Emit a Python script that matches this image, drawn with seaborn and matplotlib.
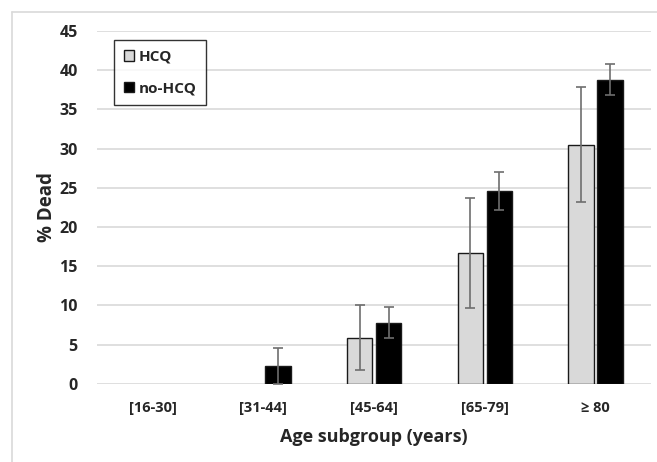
import pandas as pd
import seaborn as sns
import matplotlib.pyplot as plt
from matplotlib.lines import Line2D

# Data
age_groups = ['[16-30]', '[31-44]', '[45-64]', '[65-79]', '≥ 80']
hcq_dead = [0.0, 0.0, 5.9, 16.7, 30.5]
hcq_err = [0.0, 0.0, 4.1, 7.0, 7.3]
nohcq_dead = [0.0, 2.3, 7.8, 24.6, 38.8]
nohcq_err = [0.0, 2.3, 1.95, 2.4, 2.0]

df = pd.DataFrame({
    'age': age_groups * 2,
    'group': ['HCQ'] * 5 + ['no-HCQ'] * 5,
    'dead': hcq_dead + nohcq_dead,
    'err': hcq_err + nohcq_err,
})

sns.set_style('white')
plt.rcParams['font.family'] = ['Open Sans', 'DejaVu Sans']

fig = plt.figure(figsize=(6.57, 4.62), dpi=100)
ax = fig.add_axes([0.148, 0.169, 0.843, 0.764])

sns.barplot(data=df, x='age', y='dead', hue='group', order=age_groups,
            hue_order=['HCQ', 'no-HCQ'], palette={'HCQ': '#d9d9d9', 'no-HCQ': '#000000'},
            width=0.525, gap=0.12, errorbar=None, edgecolor='#1a1a1a', linewidth=1.0, ax=ax)

# error bars placed on the drawn bars, hide empty bars
for cont, grp in zip(ax.containers, ['HCQ', 'no-HCQ']):
    sub = df[df['group'] == grp]
    for bar, (_, row) in zip(cont, sub.iterrows()):
        if row['dead'] == 0:
            bar.set_linewidth(0)
        if row['dead'] == 0 and row['err'] == 0:
            continue
        xc = bar.get_x() + bar.get_width() / 2
        ax.errorbar(xc, row['dead'], yerr=row['err'], color='#6e6e6e', capsize=3.5,
                    elinewidth=1.2, capthick=1.2, fmt='none', clip_on=False, zorder=5)

ax.set_ylim(0, 45)
ax.set_xlim(-0.5, 4.5)
ax.set_yticks(range(0, 46, 5))
ax.yaxis.grid(True, color='#d9d9d9', linewidth=1.2)
ax.set_axisbelow(True)
sns.despine(ax=ax, left=True, bottom=True)
ax.tick_params(axis='both', length=0)
ax.tick_params(axis='x', pad=12)
ax.tick_params(axis='y', pad=14)
for lbl in ax.get_xticklabels():
    lbl.set_fontweight('bold')
    lbl.set_fontsize(10.5)
for lbl in ax.get_yticklabels():
    lbl.set_fontweight('bold')
    lbl.set_fontsize(11.5)
ax.set_xlabel('Age subgroup (years)', fontsize=13, fontweight='bold', labelpad=10)
ax.set_ylabel('% Dead', fontsize=13.5, fontweight='bold', labelpad=2)

leg = ax.legend(loc='upper left', bbox_to_anchor=(0.03, 0.975), frameon=True, fancybox=False,
                edgecolor='#000000', prop={'weight': 'bold', 'size': 11},
                handlelength=0.7, handleheight=0.7, handletextpad=0.25, labelspacing=1.15,
                borderpad=0.65, borderaxespad=0.0)
leg.get_frame().set_linewidth(1.0)

# outer frame of the picture
fig.add_artist(Line2D([12 / 657, 1], [1 - 12 / 462, 1 - 12 / 462], color='#d9d9d9', lw=1.2))
fig.add_artist(Line2D([12 / 657, 12 / 657], [0, 1 - 12 / 462], color='#d9d9d9', lw=1.2))

fig.savefig('out.png', dpi=100)
